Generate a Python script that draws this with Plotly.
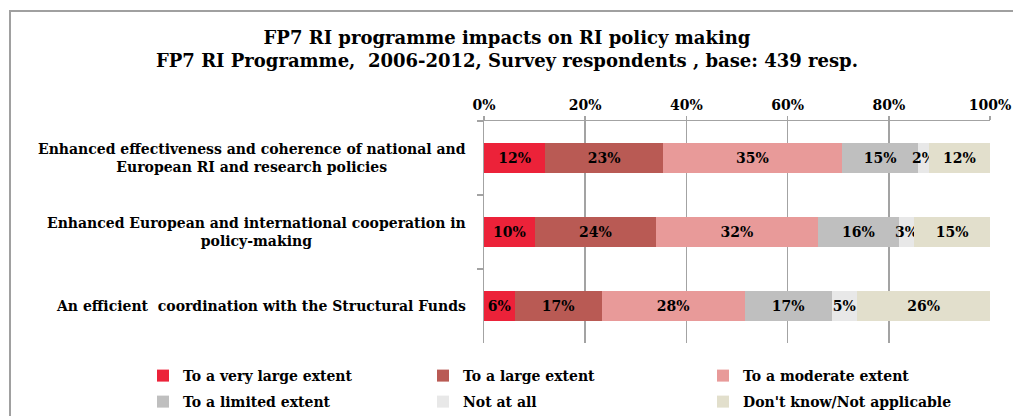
import plotly.graph_objects as go

categories = [
    "Enhanced effectiveness and coherence of national and<br>European RI and research policies",
    "Enhanced European and international cooperation in<br>policy-making",
    "An efficient  coordination with the Structural Funds",
]
cat_keys = ["A", "B", "C"]

series_names = [
    "To a very large extent",
    "To a large extent",
    "To a moderate extent",
    "To a limited extent",
    "Not at all",
    "Don't know/Not applicable",
]
very_large = [12, 10, 6]
large = [23, 24, 17]
moderate = [35, 32, 28]
limited = [15, 16, 17]
not_at_all = [2, 3, 5]
dont_know = [12, 15, 26]
series_values = [very_large, large, moderate, limited, not_at_all, dont_know]
colors = ["#EC2239", "#B95A54", "#E89A99", "#BFBFBF", "#E8E8E8", "#E2DFCC"]

x_ticks = [0, 20, 40, 60, 80, 100]

FONT = "DejaVu Serif"

fig = go.Figure()
for i, (name, vals, col) in enumerate(zip(series_names, series_values, colors)):
    fig.add_trace(go.Bar(
        name=name,
        y=cat_keys,
        x=vals,
        orientation="h",
        marker=dict(color=col, line=dict(width=0)),
        text=[f"{v}%" for v in vals],
        texttemplate="%{text}",
        textposition="inside",
        insidetextanchor="middle",
        textangle=0,
        textfont=dict(family=FONT, size=14, color="black", weight="bold"),
        hoverinfo="skip",
        legend="legend" if i < 3 else "legend2",
    ))

W, H = 1013, 416
L, R, T, B = 484, 23, 121, 73
pw, ph = W - L - R, H - T - B

def px_x(px):
    return (px - L) / pw

def px_y(py):
    return (H - B - py) / ph

legend_common = dict(
    orientation="h", x=px_x(143), xanchor="left", yanchor="top",
    entrywidth=235, entrywidthmode="pixels", traceorder="normal",
    font=dict(family=FONT, size=14, color="black", weight="bold"),
    bgcolor="rgba(0,0,0,0)", itemclick=False, itemdoubleclick=False,
)

fig.update_layout(
    width=W, height=H,
    margin=dict(l=L, r=R, t=T, b=B, autoexpand=False),
    barmode="stack",
    barnorm="percent",
    bargap=0.595,
    paper_bgcolor="white",
    plot_bgcolor="white",
    font=dict(family=FONT, size=14, color="black", weight="bold"),
    uniformtext=dict(minsize=14, mode="show"),
    title=dict(
        text="FP7 RI programme impacts on RI policy making<br>FP7 RI Programme,  2006-2012, Survey respondents , base: 439 resp.",
        x=507 / W, xanchor="center", xref="container",
        y=1 - 26 / H, yanchor="top", yref="container",
        font=dict(family=FONT, size=18, color="black", weight="bold"),
    ),
    xaxis=dict(
        side="top",
        range=[0, 100],
        tickvals=x_ticks,
        ticktext=[f"{v}%" for v in x_ticks],
        showgrid=True, gridcolor="#A3A3A3", gridwidth=1.5,
        showline=True, linecolor="#A3A3A3", linewidth=1.5,
        ticks="outside", ticklen=4, tickcolor="#A3A3A3", tickwidth=1.5,
        tickfont=dict(family=FONT, size=14, color="black", weight="bold"),
        zeroline=False, fixedrange=True,
    ),
    yaxis=dict(
        autorange="reversed",
        showticklabels=False,
        showline=True, linecolor="#A3A3A3", linewidth=1.5,
        ticks="outside", ticklen=6, tickcolor="#A3A3A3", tickwidth=1.5,
        tickson="boundaries",
        showgrid=False, fixedrange=True,
    ),
    legend=dict(y=px_y(360), **legend_common),
    legend2=dict(y=px_y(386), **legend_common),
    showlegend=True,
)

fig.update_layout(title_y=1 - 44 / H)

for key, label in zip(cat_keys, categories):
    fig.add_annotation(
        x=0, xref="paper", xanchor="right", xshift=-16,
        y=key, yref="y", yanchor="middle",
        text=label, showarrow=False, align="center",
        font=dict(family=FONT, size=14, color="black", weight="bold"),
    )

# outer chart frame (top and left edges)
fig.add_shape(
    type="path", xref="paper", yref="paper",
    path=f"M {px_x(10)},{px_y(430)} L {px_x(10)},{px_y(11)} L {px_x(1030)},{px_y(11)}",
    line=dict(color="#A0A0A0", width=2),
)

fig.write_html(
    "out.html",
    config={"displayModeBar": False, "staticPlot": True},
    post_script="document.body.style.margin='0';document.body.style.padding='0';document.body.style.overflow='hidden';",
)
